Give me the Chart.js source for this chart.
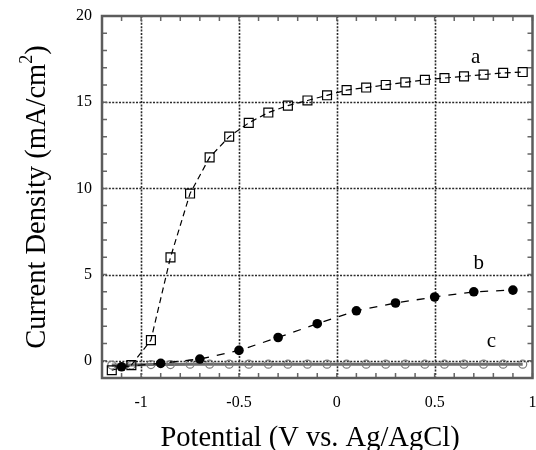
<!DOCTYPE html>
<html>
<head>
<meta charset="utf-8">
<script src="https://cdn.jsdelivr.net/npm/chart.js@4"></script>
<style>
  html, body { margin: 0; padding: 0; background: #fff; }
  #wrap { width: 536px; height: 450px; }
</style>
</head>
<body>
<div id="wrap"><canvas id="ivChart" width="536" height="450"></canvas></div>
<script>
// potential (V vs. Ag/AgCl) and current density (mA/cm2) for each curve
const potentialA = [-1.15, -1.05, -0.95, -0.85, -0.75, -0.65, -0.55, -0.45, -0.35, -0.25, -0.15,
                    -0.05, 0.05, 0.15, 0.25, 0.35, 0.45, 0.55, 0.65, 0.75, 0.85, 0.95];
const currentA = [-0.55, -0.25, 1.2, 6.0, 9.7, 11.8, 13.0, 13.8, 14.4, 14.8, 15.1,
                  15.4, 15.7, 15.85, 16.0, 16.15, 16.3, 16.4, 16.5, 16.6, 16.7, 16.75];

const potentialB = [-1.1, -0.9, -0.7, -0.5, -0.3, -0.1, 0.1, 0.3, 0.5, 0.7, 0.9];
const currentB = [-0.35, -0.15, 0.1, 0.6, 1.35, 2.15, 2.9, 3.35, 3.7, 4.0, 4.1];

const potentialC = [-1.15, -1.05, -0.95, -0.85, -0.75, -0.65, -0.55, -0.45, -0.35, -0.25, -0.15,
                    -0.05, 0.05, 0.15, 0.25, 0.35, 0.45, 0.55, 0.65, 0.75, 0.85, 0.95];
const currentC = [-0.25, -0.25, -0.22, -0.22, -0.2, -0.2, -0.2, -0.2, -0.2, -0.2, -0.2,
                  -0.2, -0.2, -0.2, -0.2, -0.2, -0.2, -0.2, -0.2, -0.2, -0.2, -0.2];

const xTicks = [-1, -0.5, 0, 0.5, 1];
const yTicks = [0, 5, 10, 15, 20];
const xGrid = [-1, -0.5, 0, 0.5];
const yGrid = [0, 5, 10, 15];

// curve names and where they sit (data units)
const curveNames = ['a', 'b', 'c'];
const curveNameX = [0.71, 0.725, 0.79];
const curveNameY = [17.3, 5.3, 0.8];

const serif = '"Liberation Serif", "Times New Roman", serif';

function toPoints(xs, ys) {
    return xs.map((x, i) => ({ x: x, y: ys[i] }));
}

// dotted grid, grey frame and inward minor ticks
const framePlugin = {
    id: 'frame',
    beforeDatasetsDraw(chart) {
        const ctx = chart.ctx;
        const area = chart.chartArea;
        const xs = chart.scales.x;
        const ys = chart.scales.y;
        ctx.save();

        ctx.strokeStyle = '#2a2a2a';
        ctx.lineWidth = 1.6;
        ctx.setLineDash([2, 1.4]);
        xGrid.forEach(v => {
            const px = Math.round(xs.getPixelForValue(v)) + 0.5;
            ctx.beginPath();
            ctx.moveTo(px, area.top);
            ctx.lineTo(px, area.bottom);
            ctx.stroke();
        });
        yGrid.forEach(v => {
            const py = Math.round(ys.getPixelForValue(v)) + 0.5;
            ctx.beginPath();
            ctx.moveTo(area.left, py);
            ctx.lineTo(area.right, py);
            ctx.stroke();
        });
        ctx.setLineDash([]);

        ctx.strokeStyle = '#666';
        ctx.lineWidth = 1.5;
        for (let k = -12; k <= 10; k++) {
            const px = xs.getPixelForValue(k / 10);
            ctx.beginPath();
            ctx.moveTo(px, area.bottom);
            ctx.lineTo(px, area.bottom - 5);
            ctx.moveTo(px, area.top);
            ctx.lineTo(px, area.top + 5);
            ctx.stroke();
        }
        for (let k = -1; k <= 20; k++) {
            const py = ys.getPixelForValue(k);
            ctx.beginPath();
            ctx.moveTo(area.left, py);
            ctx.lineTo(area.left + 5, py);
            ctx.moveTo(area.right, py);
            ctx.lineTo(area.right - 5, py);
            ctx.stroke();
        }

        ctx.lineWidth = 2.5;
        ctx.strokeStyle = '#5c5c5c';
        ctx.strokeRect(area.left, area.top, area.right - area.left, area.bottom - area.top);
        ctx.restore();
    },
    afterDraw(chart) {
        const ctx = chart.ctx;
        const xs = chart.scales.x;
        const ys = chart.scales.y;
        ctx.save();
        ctx.fillStyle = '#000';

        // curve names
        ctx.font = '21px ' + serif;
        ctx.textAlign = 'center';
        ctx.textBaseline = 'alphabetic';
        curveNames.forEach((name, i) => {
            ctx.fillText(name, xs.getPixelForValue(curveNameX[i]), ys.getPixelForValue(curveNameY[i]));
        });

        // x axis title
        ctx.font = '28.5px ' + serif;
        ctx.textAlign = 'center';
        ctx.fillText('Potential (V vs. Ag/AgCl)', 310, 446);

        // y axis title with superscript
        const main = 'Current Density (mA/cm';
        ctx.font = '28.5px ' + serif;
        const wMain = ctx.measureText(main).width;
        const wParen = ctx.measureText(')').width;
        ctx.font = '18px ' + serif;
        const wSup = ctx.measureText('2').width;
        const total = wMain + wSup + wParen;
        ctx.translate(45, 197);
        ctx.rotate(-Math.PI / 2);
        ctx.textAlign = 'left';
        const x0 = -total / 2;
        ctx.font = '28.5px ' + serif;
        ctx.fillText(main, x0, 0);
        ctx.font = '18px ' + serif;
        ctx.fillText('2', x0 + wMain, -13);
        ctx.font = '28.5px ' + serif;
        ctx.fillText(')', x0 + wMain + wSup, 0);
        ctx.restore();
    }
};

const ctx = document.getElementById('ivChart').getContext('2d');
const ivChart = new Chart(ctx, {
    type: 'scatter',
    data: {
        datasets: [{
            label: 'a',
            data: toPoints(potentialA, currentA),
            showLine: true,
            borderColor: '#000',
            borderWidth: 1.2,
            borderDash: [6, 4],
            pointStyle: 'rect',
            pointRadius: 6.3,
            pointBorderWidth: 1.2,
            pointBorderColor: '#000',
            pointBackgroundColor: 'rgba(0,0,0,0)'
        }, {
            label: 'b',
            data: toPoints(potentialB, currentB),
            showLine: true,
            borderColor: '#000',
            borderWidth: 1.3,
            borderDash: [8, 8],
            pointStyle: 'circle',
            pointRadius: 4.8,
            pointBorderWidth: 0,
            pointBackgroundColor: '#000'
        }, {
            label: 'c',
            data: toPoints(potentialC, currentC),
            showLine: true,
            borderColor: '#6e6e6e',
            borderWidth: 3,
            pointStyle: 'circle',
            pointRadius: 4,
            pointBorderWidth: 1.2,
            pointBorderColor: '#7a7a7a',
            pointBackgroundColor: 'rgba(0,0,0,0)'
        }]
    },
    options: {
        responsive: false,
        animation: false,
        layout: { autoPadding: false, padding: { left: 0, top: 16, right: 3.5, bottom: 0 } },
        plugins: {
            legend: { display: false },
            tooltip: { enabled: false }
        },
        scales: {
            x: {
                type: 'linear',
                min: -1.2,
                max: 1.0,
                afterBuildTicks: scale => { scale.ticks = xTicks.map(v => ({ value: v })); },
                afterFit: scale => {
                    scale.height = 72;
                    // let the "1" label run off the right edge
                    scale.paddingLeft = 0;
                    scale.paddingRight = 0;
                },
                grid: { display: false, drawTicks: true, tickLength: 15 },
                border: { display: false },
                ticks: {
                    padding: 0,
                    color: '#000',
                    font: { family: serif, size: 16 },
                    maxRotation: 0,
                    autoSkip: false,
                    callback: v => String(v)
                }
            },
            y: {
                type: 'linear',
                min: -1,
                max: 20,
                afterBuildTicks: scale => { scale.ticks = yTicks.map(v => ({ value: v })); },
                afterFit: scale => { scale.width = 102; },
                grid: { display: false, drawTicks: true, tickLength: 10 },
                border: { display: false },
                ticks: {
                    padding: 0,
                    color: '#000',
                    font: { family: serif, size: 16 },
                    autoSkip: false,
                    callback: v => String(v)
                }
            }
        }
    },
    plugins: [framePlugin]
});
</script>
</body>
</html>
